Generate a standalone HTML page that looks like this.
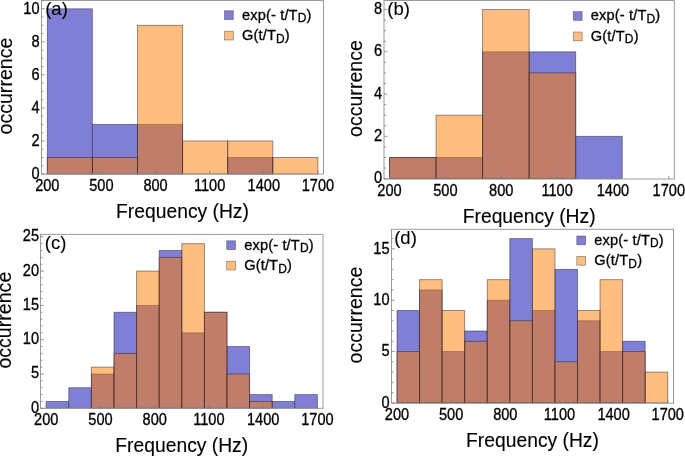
<!DOCTYPE html>
<html><head><meta charset="utf-8"><style>
html,body{margin:0;padding:0;background:#fff;}
svg{display:block;will-change:transform;}
text{font-family:"Liberation Sans",sans-serif;fill:#000;stroke:#000;stroke-width:0.3px;}
.tk{font-size:15.2px;}
.ax{font-size:19.3px;stroke-width:0.12px;}
.oc{font-size:19.6px;stroke-width:0.12px;}
.pl{font-size:18.5px;stroke-width:0.1px;}
.lg{font-size:14.6px;letter-spacing:0.15px;}
.sub{font-size:12px;}
</style></head><body>
<svg width="685" height="456" viewBox="0 0 685 456">
<rect width="685" height="456" fill="#fff"/>
<rect x="47.30" y="8.80" width="45.10" height="165.20" fill="rgb(127,127,213)" stroke="rgba(25,25,45,0.5)" stroke-width="0.9"/>
<rect x="92.40" y="124.44" width="45.10" height="49.56" fill="rgb(127,127,213)" stroke="rgba(25,25,45,0.5)" stroke-width="0.9"/>
<rect x="137.50" y="124.44" width="45.10" height="49.56" fill="rgb(127,127,213)" stroke="rgba(25,25,45,0.5)" stroke-width="0.9"/>
<rect x="227.70" y="157.48" width="45.10" height="16.52" fill="rgb(127,127,213)" stroke="rgba(25,25,45,0.5)" stroke-width="0.9"/>
<rect x="47.30" y="157.48" width="45.10" height="16.52" fill="rgba(255,124,0,0.5)" stroke="rgba(25,25,45,0.5)" stroke-width="0.9"/>
<rect x="92.40" y="157.48" width="45.10" height="16.52" fill="rgba(255,124,0,0.5)" stroke="rgba(25,25,45,0.5)" stroke-width="0.9"/>
<rect x="137.50" y="25.32" width="45.10" height="148.68" fill="rgba(255,124,0,0.5)" stroke="rgba(25,25,45,0.5)" stroke-width="0.9"/>
<rect x="182.60" y="140.96" width="45.10" height="33.04" fill="rgba(255,124,0,0.5)" stroke="rgba(25,25,45,0.5)" stroke-width="0.9"/>
<rect x="227.70" y="140.96" width="45.10" height="33.04" fill="rgba(255,124,0,0.5)" stroke="rgba(25,25,45,0.5)" stroke-width="0.9"/>
<rect x="272.80" y="157.48" width="45.10" height="16.52" fill="rgba(255,124,0,0.5)" stroke="rgba(25,25,45,0.5)" stroke-width="0.9"/>
<rect x="41.5" y="0.5" width="282.0" height="173.5" fill="none" stroke="#9a9a9a" stroke-width="1"/>
<line x1="41.5" y1="174.00" x2="44.9" y2="174.00" stroke="#7c7c7c" stroke-width="0.8"/>
<line x1="41.5" y1="165.74" x2="43.5" y2="165.74" stroke="#7c7c7c" stroke-width="0.8"/>
<line x1="41.5" y1="157.48" x2="43.5" y2="157.48" stroke="#7c7c7c" stroke-width="0.8"/>
<line x1="41.5" y1="149.22" x2="43.5" y2="149.22" stroke="#7c7c7c" stroke-width="0.8"/>
<line x1="41.5" y1="140.96" x2="44.9" y2="140.96" stroke="#7c7c7c" stroke-width="0.8"/>
<line x1="41.5" y1="132.70" x2="43.5" y2="132.70" stroke="#7c7c7c" stroke-width="0.8"/>
<line x1="41.5" y1="124.44" x2="43.5" y2="124.44" stroke="#7c7c7c" stroke-width="0.8"/>
<line x1="41.5" y1="116.18" x2="43.5" y2="116.18" stroke="#7c7c7c" stroke-width="0.8"/>
<line x1="41.5" y1="107.92" x2="44.9" y2="107.92" stroke="#7c7c7c" stroke-width="0.8"/>
<line x1="41.5" y1="99.66" x2="43.5" y2="99.66" stroke="#7c7c7c" stroke-width="0.8"/>
<line x1="41.5" y1="91.40" x2="43.5" y2="91.40" stroke="#7c7c7c" stroke-width="0.8"/>
<line x1="41.5" y1="83.14" x2="43.5" y2="83.14" stroke="#7c7c7c" stroke-width="0.8"/>
<line x1="41.5" y1="74.88" x2="44.9" y2="74.88" stroke="#7c7c7c" stroke-width="0.8"/>
<line x1="41.5" y1="66.62" x2="43.5" y2="66.62" stroke="#7c7c7c" stroke-width="0.8"/>
<line x1="41.5" y1="58.36" x2="43.5" y2="58.36" stroke="#7c7c7c" stroke-width="0.8"/>
<line x1="41.5" y1="50.10" x2="43.5" y2="50.10" stroke="#7c7c7c" stroke-width="0.8"/>
<line x1="41.5" y1="41.84" x2="44.9" y2="41.84" stroke="#7c7c7c" stroke-width="0.8"/>
<line x1="41.5" y1="33.58" x2="43.5" y2="33.58" stroke="#7c7c7c" stroke-width="0.8"/>
<line x1="41.5" y1="25.32" x2="43.5" y2="25.32" stroke="#7c7c7c" stroke-width="0.8"/>
<line x1="41.5" y1="17.06" x2="43.5" y2="17.06" stroke="#7c7c7c" stroke-width="0.8"/>
<line x1="41.5" y1="8.80" x2="44.9" y2="8.80" stroke="#7c7c7c" stroke-width="0.8"/>
<line x1="41.5" y1="0.54" x2="43.5" y2="0.54" stroke="#7c7c7c" stroke-width="0.8"/>
<text transform="translate(39.50,179.25) scale(0.96,1.08)" text-anchor="end" class="tk">0</text>
<text transform="translate(39.50,146.21) scale(0.96,1.08)" text-anchor="end" class="tk">2</text>
<text transform="translate(39.50,113.17) scale(0.96,1.08)" text-anchor="end" class="tk">4</text>
<text transform="translate(39.50,80.13) scale(0.96,1.08)" text-anchor="end" class="tk">6</text>
<text transform="translate(39.50,47.09) scale(0.96,1.08)" text-anchor="end" class="tk">8</text>
<text transform="translate(39.50,14.05) scale(0.96,1.08)" text-anchor="end" class="tk">10</text>
<line x1="47.30" y1="174" x2="47.30" y2="170.8" stroke="#7c7c7c" stroke-width="0.8"/>
<text transform="translate(47.30,191.20) scale(0.96,1.08)" text-anchor="middle" class="tk">200</text>
<line x1="101.42" y1="174" x2="101.42" y2="170.8" stroke="#7c7c7c" stroke-width="0.8"/>
<text transform="translate(101.42,191.20) scale(0.96,1.08)" text-anchor="middle" class="tk">500</text>
<line x1="155.54" y1="174" x2="155.54" y2="170.8" stroke="#7c7c7c" stroke-width="0.8"/>
<text transform="translate(155.54,191.20) scale(0.96,1.08)" text-anchor="middle" class="tk">800</text>
<line x1="209.66" y1="174" x2="209.66" y2="170.8" stroke="#7c7c7c" stroke-width="0.8"/>
<text transform="translate(209.66,191.20) scale(0.96,1.08)" text-anchor="middle" class="tk">1100</text>
<line x1="263.78" y1="174" x2="263.78" y2="170.8" stroke="#7c7c7c" stroke-width="0.8"/>
<text transform="translate(263.78,191.20) scale(0.96,1.08)" text-anchor="middle" class="tk">1400</text>
<line x1="317.90" y1="174" x2="317.90" y2="170.8" stroke="#7c7c7c" stroke-width="0.8"/>
<text transform="translate(317.90,191.20) scale(0.96,1.08)" text-anchor="middle" class="tk">1700</text>
<text x="182.50" y="217.70" text-anchor="middle" class="ax">Frequency (Hz)</text>
<text transform="translate(12.00,86.05) rotate(-90)" x="0" y="0" text-anchor="middle" class="oc">occurrence</text>
<text x="45.20" y="14.80" class="pl">(a)</text>
<rect x="224.50" y="10.80" width="8.8" height="8.8" fill="rgb(127,127,213)" stroke="rgba(25,25,45,0.5)" stroke-width="0.7"/>
<rect x="224.50" y="31.20" width="8.8" height="8.8" fill="rgb(255,190,128)" stroke="rgba(25,25,45,0.5)" stroke-width="0.7"/>
<g transform="translate(242.00,19.60) scale(1,1)"><text x="0" y="0" class="lg">exp(- t/T<tspan class="sub" dy="2.6">D</tspan><tspan dy="-2.6">)</tspan></text></g>
<g transform="translate(242.00,40.00) scale(1,1)"><text x="0" y="0" class="lg">G(t/T<tspan class="sub" dy="2.6">D</tspan><tspan dy="-2.6">)</tspan></text></g>
<rect x="389.50" y="157.47" width="46.55" height="21.13" fill="rgb(127,127,213)" stroke="rgba(25,25,45,0.5)" stroke-width="0.9"/>
<rect x="436.05" y="157.47" width="46.55" height="21.13" fill="rgb(127,127,213)" stroke="rgba(25,25,45,0.5)" stroke-width="0.9"/>
<rect x="482.60" y="51.82" width="46.55" height="126.78" fill="rgb(127,127,213)" stroke="rgba(25,25,45,0.5)" stroke-width="0.9"/>
<rect x="529.15" y="51.82" width="46.55" height="126.78" fill="rgb(127,127,213)" stroke="rgba(25,25,45,0.5)" stroke-width="0.9"/>
<rect x="575.70" y="136.34" width="46.55" height="42.26" fill="rgb(127,127,213)" stroke="rgba(25,25,45,0.5)" stroke-width="0.9"/>
<rect x="389.50" y="157.47" width="46.55" height="21.13" fill="rgba(255,124,0,0.5)" stroke="rgba(25,25,45,0.5)" stroke-width="0.9"/>
<rect x="436.05" y="115.21" width="46.55" height="63.39" fill="rgba(255,124,0,0.5)" stroke="rgba(25,25,45,0.5)" stroke-width="0.9"/>
<rect x="482.60" y="9.56" width="46.55" height="169.04" fill="rgba(255,124,0,0.5)" stroke="rgba(25,25,45,0.5)" stroke-width="0.9"/>
<rect x="529.15" y="72.95" width="46.55" height="105.65" fill="rgba(255,124,0,0.5)" stroke="rgba(25,25,45,0.5)" stroke-width="0.9"/>
<rect x="384" y="0.5" width="290.29999999999995" height="178.5" fill="none" stroke="#9a9a9a" stroke-width="1"/>
<line x1="384" y1="178.60" x2="387.4" y2="178.60" stroke="#7c7c7c" stroke-width="0.8"/>
<line x1="384" y1="168.03" x2="386" y2="168.03" stroke="#7c7c7c" stroke-width="0.8"/>
<line x1="384" y1="157.47" x2="386" y2="157.47" stroke="#7c7c7c" stroke-width="0.8"/>
<line x1="384" y1="146.91" x2="386" y2="146.91" stroke="#7c7c7c" stroke-width="0.8"/>
<line x1="384" y1="136.34" x2="387.4" y2="136.34" stroke="#7c7c7c" stroke-width="0.8"/>
<line x1="384" y1="125.78" x2="386" y2="125.78" stroke="#7c7c7c" stroke-width="0.8"/>
<line x1="384" y1="115.21" x2="386" y2="115.21" stroke="#7c7c7c" stroke-width="0.8"/>
<line x1="384" y1="104.64" x2="386" y2="104.64" stroke="#7c7c7c" stroke-width="0.8"/>
<line x1="384" y1="94.08" x2="387.4" y2="94.08" stroke="#7c7c7c" stroke-width="0.8"/>
<line x1="384" y1="83.52" x2="386" y2="83.52" stroke="#7c7c7c" stroke-width="0.8"/>
<line x1="384" y1="72.95" x2="386" y2="72.95" stroke="#7c7c7c" stroke-width="0.8"/>
<line x1="384" y1="62.39" x2="386" y2="62.39" stroke="#7c7c7c" stroke-width="0.8"/>
<line x1="384" y1="51.82" x2="387.4" y2="51.82" stroke="#7c7c7c" stroke-width="0.8"/>
<line x1="384" y1="41.25" x2="386" y2="41.25" stroke="#7c7c7c" stroke-width="0.8"/>
<line x1="384" y1="30.69" x2="386" y2="30.69" stroke="#7c7c7c" stroke-width="0.8"/>
<line x1="384" y1="20.12" x2="386" y2="20.12" stroke="#7c7c7c" stroke-width="0.8"/>
<line x1="384" y1="9.56" x2="387.4" y2="9.56" stroke="#7c7c7c" stroke-width="0.8"/>
<text transform="translate(382.00,183.20) scale(0.96,1.08)" text-anchor="end" class="tk">0</text>
<text transform="translate(382.00,140.94) scale(0.96,1.08)" text-anchor="end" class="tk">2</text>
<text transform="translate(382.00,98.68) scale(0.96,1.08)" text-anchor="end" class="tk">4</text>
<text transform="translate(382.00,56.42) scale(0.96,1.08)" text-anchor="end" class="tk">6</text>
<text transform="translate(382.00,14.16) scale(0.96,1.08)" text-anchor="end" class="tk">8</text>
<line x1="389.50" y1="179" x2="389.50" y2="175.8" stroke="#7c7c7c" stroke-width="0.8"/>
<text transform="translate(389.50,196.40) scale(0.96,1.08)" text-anchor="middle" class="tk">200</text>
<line x1="445.36" y1="179" x2="445.36" y2="175.8" stroke="#7c7c7c" stroke-width="0.8"/>
<text transform="translate(445.36,196.40) scale(0.96,1.08)" text-anchor="middle" class="tk">500</text>
<line x1="501.22" y1="179" x2="501.22" y2="175.8" stroke="#7c7c7c" stroke-width="0.8"/>
<text transform="translate(501.22,196.40) scale(0.96,1.08)" text-anchor="middle" class="tk">800</text>
<line x1="557.08" y1="179" x2="557.08" y2="175.8" stroke="#7c7c7c" stroke-width="0.8"/>
<text transform="translate(557.08,196.40) scale(0.96,1.08)" text-anchor="middle" class="tk">1100</text>
<line x1="612.94" y1="179" x2="612.94" y2="175.8" stroke="#7c7c7c" stroke-width="0.8"/>
<text transform="translate(612.94,196.40) scale(0.96,1.08)" text-anchor="middle" class="tk">1400</text>
<line x1="668.80" y1="179" x2="668.80" y2="175.8" stroke="#7c7c7c" stroke-width="0.8"/>
<text transform="translate(668.80,196.40) scale(0.96,1.08)" text-anchor="middle" class="tk">1700</text>
<text x="529.15" y="222.70" text-anchor="middle" class="ax">Frequency (Hz)</text>
<text transform="translate(361.70,88.55) rotate(-90)" x="0" y="0" text-anchor="middle" class="oc">occurrence</text>
<text x="387.30" y="15.40" class="pl">(b)</text>
<rect x="573.30" y="11.60" width="8.8" height="8.8" fill="rgb(127,127,213)" stroke="rgba(25,25,45,0.5)" stroke-width="0.7"/>
<rect x="573.30" y="32.00" width="8.8" height="8.8" fill="rgb(255,190,128)" stroke="rgba(25,25,45,0.5)" stroke-width="0.7"/>
<g transform="translate(590.80,20.40) scale(1,1)"><text x="0" y="0" class="lg">exp(- t/T<tspan class="sub" dy="2.6">D</tspan><tspan dy="-2.6">)</tspan></text></g>
<g transform="translate(590.80,40.80) scale(1,1)"><text x="0" y="0" class="lg">G(t/T<tspan class="sub" dy="2.6">D</tspan><tspan dy="-2.6">)</tspan></text></g>
<rect x="46.20" y="401.44" width="22.60" height="6.86" fill="rgb(127,127,213)" stroke="rgba(25,25,45,0.5)" stroke-width="0.9"/>
<rect x="68.80" y="387.72" width="22.60" height="20.58" fill="rgb(127,127,213)" stroke="rgba(25,25,45,0.5)" stroke-width="0.9"/>
<rect x="91.40" y="374.00" width="22.60" height="34.30" fill="rgb(127,127,213)" stroke="rgba(25,25,45,0.5)" stroke-width="0.9"/>
<rect x="114.00" y="312.26" width="22.60" height="96.04" fill="rgb(127,127,213)" stroke="rgba(25,25,45,0.5)" stroke-width="0.9"/>
<rect x="136.60" y="305.40" width="22.60" height="102.90" fill="rgb(127,127,213)" stroke="rgba(25,25,45,0.5)" stroke-width="0.9"/>
<rect x="159.20" y="250.52" width="22.60" height="157.78" fill="rgb(127,127,213)" stroke="rgba(25,25,45,0.5)" stroke-width="0.9"/>
<rect x="181.80" y="332.84" width="22.60" height="75.46" fill="rgb(127,127,213)" stroke="rgba(25,25,45,0.5)" stroke-width="0.9"/>
<rect x="204.40" y="312.26" width="22.60" height="96.04" fill="rgb(127,127,213)" stroke="rgba(25,25,45,0.5)" stroke-width="0.9"/>
<rect x="227.00" y="346.56" width="22.60" height="61.74" fill="rgb(127,127,213)" stroke="rgba(25,25,45,0.5)" stroke-width="0.9"/>
<rect x="249.60" y="394.58" width="22.60" height="13.72" fill="rgb(127,127,213)" stroke="rgba(25,25,45,0.5)" stroke-width="0.9"/>
<rect x="272.20" y="401.44" width="22.60" height="6.86" fill="rgb(127,127,213)" stroke="rgba(25,25,45,0.5)" stroke-width="0.9"/>
<rect x="294.80" y="394.58" width="22.60" height="13.72" fill="rgb(127,127,213)" stroke="rgba(25,25,45,0.5)" stroke-width="0.9"/>
<rect x="91.40" y="367.14" width="22.60" height="41.16" fill="rgba(255,124,0,0.5)" stroke="rgba(25,25,45,0.5)" stroke-width="0.9"/>
<rect x="114.00" y="353.42" width="22.60" height="54.88" fill="rgba(255,124,0,0.5)" stroke="rgba(25,25,45,0.5)" stroke-width="0.9"/>
<rect x="136.60" y="271.10" width="22.60" height="137.20" fill="rgba(255,124,0,0.5)" stroke="rgba(25,25,45,0.5)" stroke-width="0.9"/>
<rect x="159.20" y="257.38" width="22.60" height="150.92" fill="rgba(255,124,0,0.5)" stroke="rgba(25,25,45,0.5)" stroke-width="0.9"/>
<rect x="181.80" y="243.66" width="22.60" height="164.64" fill="rgba(255,124,0,0.5)" stroke="rgba(25,25,45,0.5)" stroke-width="0.9"/>
<rect x="204.40" y="312.26" width="22.60" height="96.04" fill="rgba(255,124,0,0.5)" stroke="rgba(25,25,45,0.5)" stroke-width="0.9"/>
<rect x="227.00" y="374.00" width="22.60" height="34.30" fill="rgba(255,124,0,0.5)" stroke="rgba(25,25,45,0.5)" stroke-width="0.9"/>
<rect x="249.60" y="401.44" width="22.60" height="6.86" fill="rgba(255,124,0,0.5)" stroke="rgba(25,25,45,0.5)" stroke-width="0.9"/>
<rect x="40.5" y="234.4" width="282.5" height="173.9" fill="none" stroke="#9a9a9a" stroke-width="1"/>
<line x1="40.5" y1="408.30" x2="43.9" y2="408.30" stroke="#7c7c7c" stroke-width="0.8"/>
<line x1="40.5" y1="401.44" x2="42.5" y2="401.44" stroke="#7c7c7c" stroke-width="0.8"/>
<line x1="40.5" y1="394.58" x2="42.5" y2="394.58" stroke="#7c7c7c" stroke-width="0.8"/>
<line x1="40.5" y1="387.72" x2="42.5" y2="387.72" stroke="#7c7c7c" stroke-width="0.8"/>
<line x1="40.5" y1="380.86" x2="42.5" y2="380.86" stroke="#7c7c7c" stroke-width="0.8"/>
<line x1="40.5" y1="374.00" x2="43.9" y2="374.00" stroke="#7c7c7c" stroke-width="0.8"/>
<line x1="40.5" y1="367.14" x2="42.5" y2="367.14" stroke="#7c7c7c" stroke-width="0.8"/>
<line x1="40.5" y1="360.28" x2="42.5" y2="360.28" stroke="#7c7c7c" stroke-width="0.8"/>
<line x1="40.5" y1="353.42" x2="42.5" y2="353.42" stroke="#7c7c7c" stroke-width="0.8"/>
<line x1="40.5" y1="346.56" x2="42.5" y2="346.56" stroke="#7c7c7c" stroke-width="0.8"/>
<line x1="40.5" y1="339.70" x2="43.9" y2="339.70" stroke="#7c7c7c" stroke-width="0.8"/>
<line x1="40.5" y1="332.84" x2="42.5" y2="332.84" stroke="#7c7c7c" stroke-width="0.8"/>
<line x1="40.5" y1="325.98" x2="42.5" y2="325.98" stroke="#7c7c7c" stroke-width="0.8"/>
<line x1="40.5" y1="319.12" x2="42.5" y2="319.12" stroke="#7c7c7c" stroke-width="0.8"/>
<line x1="40.5" y1="312.26" x2="42.5" y2="312.26" stroke="#7c7c7c" stroke-width="0.8"/>
<line x1="40.5" y1="305.40" x2="43.9" y2="305.40" stroke="#7c7c7c" stroke-width="0.8"/>
<line x1="40.5" y1="298.54" x2="42.5" y2="298.54" stroke="#7c7c7c" stroke-width="0.8"/>
<line x1="40.5" y1="291.68" x2="42.5" y2="291.68" stroke="#7c7c7c" stroke-width="0.8"/>
<line x1="40.5" y1="284.82" x2="42.5" y2="284.82" stroke="#7c7c7c" stroke-width="0.8"/>
<line x1="40.5" y1="277.96" x2="42.5" y2="277.96" stroke="#7c7c7c" stroke-width="0.8"/>
<line x1="40.5" y1="271.10" x2="43.9" y2="271.10" stroke="#7c7c7c" stroke-width="0.8"/>
<line x1="40.5" y1="264.24" x2="42.5" y2="264.24" stroke="#7c7c7c" stroke-width="0.8"/>
<line x1="40.5" y1="257.38" x2="42.5" y2="257.38" stroke="#7c7c7c" stroke-width="0.8"/>
<line x1="40.5" y1="250.52" x2="42.5" y2="250.52" stroke="#7c7c7c" stroke-width="0.8"/>
<line x1="40.5" y1="243.66" x2="42.5" y2="243.66" stroke="#7c7c7c" stroke-width="0.8"/>
<line x1="40.5" y1="236.80" x2="43.9" y2="236.80" stroke="#7c7c7c" stroke-width="0.8"/>
<text transform="translate(39.00,412.75) scale(0.96,1.08)" text-anchor="end" class="tk">0</text>
<text transform="translate(39.00,378.45) scale(0.96,1.08)" text-anchor="end" class="tk">5</text>
<text transform="translate(39.00,344.15) scale(0.96,1.08)" text-anchor="end" class="tk">10</text>
<text transform="translate(39.00,309.85) scale(0.96,1.08)" text-anchor="end" class="tk">15</text>
<text transform="translate(39.00,275.55) scale(0.96,1.08)" text-anchor="end" class="tk">20</text>
<text transform="translate(39.00,241.25) scale(0.96,1.08)" text-anchor="end" class="tk">25</text>
<line x1="46.20" y1="408.3" x2="46.20" y2="405.1" stroke="#7c7c7c" stroke-width="0.8"/>
<text transform="translate(46.20,425.00) scale(0.96,1.08)" text-anchor="middle" class="tk">200</text>
<line x1="100.44" y1="408.3" x2="100.44" y2="405.1" stroke="#7c7c7c" stroke-width="0.8"/>
<text transform="translate(100.44,425.00) scale(0.96,1.08)" text-anchor="middle" class="tk">500</text>
<line x1="154.68" y1="408.3" x2="154.68" y2="405.1" stroke="#7c7c7c" stroke-width="0.8"/>
<text transform="translate(154.68,425.00) scale(0.96,1.08)" text-anchor="middle" class="tk">800</text>
<line x1="208.92" y1="408.3" x2="208.92" y2="405.1" stroke="#7c7c7c" stroke-width="0.8"/>
<text transform="translate(208.92,425.00) scale(0.96,1.08)" text-anchor="middle" class="tk">1100</text>
<line x1="263.16" y1="408.3" x2="263.16" y2="405.1" stroke="#7c7c7c" stroke-width="0.8"/>
<text transform="translate(263.16,425.00) scale(0.96,1.08)" text-anchor="middle" class="tk">1400</text>
<line x1="317.40" y1="408.3" x2="317.40" y2="405.1" stroke="#7c7c7c" stroke-width="0.8"/>
<text transform="translate(317.40,425.00) scale(0.96,1.08)" text-anchor="middle" class="tk">1700</text>
<text x="181.75" y="452.00" text-anchor="middle" class="ax">Frequency (Hz)</text>
<text transform="translate(11.45,320.15) rotate(-90)" x="0" y="0" text-anchor="middle" class="oc">occurrence</text>
<text x="44.80" y="249.00" class="pl">(c)</text>
<rect x="226.70" y="240.80" width="8.8" height="8.8" fill="rgb(127,127,213)" stroke="rgba(25,25,45,0.5)" stroke-width="0.7"/>
<rect x="226.70" y="261.20" width="8.8" height="8.8" fill="rgb(255,190,128)" stroke="rgba(25,25,45,0.5)" stroke-width="0.7"/>
<g transform="translate(244.20,249.60) scale(1,1)"><text x="0" y="0" class="lg">exp(- t/T<tspan class="sub" dy="2.6">D</tspan><tspan dy="-2.6">)</tspan></text></g>
<g transform="translate(244.20,270.00) scale(1,1)"><text x="0" y="0" class="lg">G(t/T<tspan class="sub" dy="2.6">D</tspan><tspan dy="-2.6">)</tspan></text></g>
<rect x="397.00" y="310.47" width="22.56" height="92.43" fill="rgb(127,127,213)" stroke="rgba(25,25,45,0.5)" stroke-width="0.9"/>
<rect x="419.56" y="289.93" width="22.56" height="112.97" fill="rgb(127,127,213)" stroke="rgba(25,25,45,0.5)" stroke-width="0.9"/>
<rect x="442.12" y="351.55" width="22.56" height="51.35" fill="rgb(127,127,213)" stroke="rgba(25,25,45,0.5)" stroke-width="0.9"/>
<rect x="464.69" y="331.01" width="22.56" height="71.89" fill="rgb(127,127,213)" stroke="rgba(25,25,45,0.5)" stroke-width="0.9"/>
<rect x="487.25" y="300.20" width="22.56" height="102.70" fill="rgb(127,127,213)" stroke="rgba(25,25,45,0.5)" stroke-width="0.9"/>
<rect x="509.81" y="238.58" width="22.56" height="164.32" fill="rgb(127,127,213)" stroke="rgba(25,25,45,0.5)" stroke-width="0.9"/>
<rect x="532.38" y="310.47" width="22.56" height="92.43" fill="rgb(127,127,213)" stroke="rgba(25,25,45,0.5)" stroke-width="0.9"/>
<rect x="554.94" y="269.39" width="22.56" height="133.51" fill="rgb(127,127,213)" stroke="rgba(25,25,45,0.5)" stroke-width="0.9"/>
<rect x="577.50" y="320.74" width="22.56" height="82.16" fill="rgb(127,127,213)" stroke="rgba(25,25,45,0.5)" stroke-width="0.9"/>
<rect x="600.06" y="351.55" width="22.56" height="51.35" fill="rgb(127,127,213)" stroke="rgba(25,25,45,0.5)" stroke-width="0.9"/>
<rect x="622.62" y="341.28" width="22.56" height="61.62" fill="rgb(127,127,213)" stroke="rgba(25,25,45,0.5)" stroke-width="0.9"/>
<rect x="397.00" y="351.55" width="22.56" height="51.35" fill="rgba(255,124,0,0.5)" stroke="rgba(25,25,45,0.5)" stroke-width="0.9"/>
<rect x="419.56" y="279.66" width="22.56" height="123.24" fill="rgba(255,124,0,0.5)" stroke="rgba(25,25,45,0.5)" stroke-width="0.9"/>
<rect x="442.12" y="310.47" width="22.56" height="92.43" fill="rgba(255,124,0,0.5)" stroke="rgba(25,25,45,0.5)" stroke-width="0.9"/>
<rect x="464.69" y="341.28" width="22.56" height="61.62" fill="rgba(255,124,0,0.5)" stroke="rgba(25,25,45,0.5)" stroke-width="0.9"/>
<rect x="487.25" y="279.66" width="22.56" height="123.24" fill="rgba(255,124,0,0.5)" stroke="rgba(25,25,45,0.5)" stroke-width="0.9"/>
<rect x="509.81" y="320.74" width="22.56" height="82.16" fill="rgba(255,124,0,0.5)" stroke="rgba(25,25,45,0.5)" stroke-width="0.9"/>
<rect x="532.38" y="248.85" width="22.56" height="154.05" fill="rgba(255,124,0,0.5)" stroke="rgba(25,25,45,0.5)" stroke-width="0.9"/>
<rect x="554.94" y="361.82" width="22.56" height="41.08" fill="rgba(255,124,0,0.5)" stroke="rgba(25,25,45,0.5)" stroke-width="0.9"/>
<rect x="577.50" y="310.47" width="22.56" height="92.43" fill="rgba(255,124,0,0.5)" stroke="rgba(25,25,45,0.5)" stroke-width="0.9"/>
<rect x="600.06" y="279.66" width="22.56" height="123.24" fill="rgba(255,124,0,0.5)" stroke="rgba(25,25,45,0.5)" stroke-width="0.9"/>
<rect x="622.62" y="351.55" width="22.56" height="51.35" fill="rgba(255,124,0,0.5)" stroke="rgba(25,25,45,0.5)" stroke-width="0.9"/>
<rect x="645.19" y="372.09" width="22.56" height="30.81" fill="rgba(255,124,0,0.5)" stroke="rgba(25,25,45,0.5)" stroke-width="0.9"/>
<rect x="391.5" y="229.3" width="282.0" height="173.89999999999998" fill="none" stroke="#9a9a9a" stroke-width="1"/>
<line x1="391.5" y1="402.90" x2="394.9" y2="402.90" stroke="#7c7c7c" stroke-width="0.8"/>
<line x1="391.5" y1="392.63" x2="393.5" y2="392.63" stroke="#7c7c7c" stroke-width="0.8"/>
<line x1="391.5" y1="382.36" x2="393.5" y2="382.36" stroke="#7c7c7c" stroke-width="0.8"/>
<line x1="391.5" y1="372.09" x2="393.5" y2="372.09" stroke="#7c7c7c" stroke-width="0.8"/>
<line x1="391.5" y1="361.82" x2="393.5" y2="361.82" stroke="#7c7c7c" stroke-width="0.8"/>
<line x1="391.5" y1="351.55" x2="394.9" y2="351.55" stroke="#7c7c7c" stroke-width="0.8"/>
<line x1="391.5" y1="341.28" x2="393.5" y2="341.28" stroke="#7c7c7c" stroke-width="0.8"/>
<line x1="391.5" y1="331.01" x2="393.5" y2="331.01" stroke="#7c7c7c" stroke-width="0.8"/>
<line x1="391.5" y1="320.74" x2="393.5" y2="320.74" stroke="#7c7c7c" stroke-width="0.8"/>
<line x1="391.5" y1="310.47" x2="393.5" y2="310.47" stroke="#7c7c7c" stroke-width="0.8"/>
<line x1="391.5" y1="300.20" x2="394.9" y2="300.20" stroke="#7c7c7c" stroke-width="0.8"/>
<line x1="391.5" y1="289.93" x2="393.5" y2="289.93" stroke="#7c7c7c" stroke-width="0.8"/>
<line x1="391.5" y1="279.66" x2="393.5" y2="279.66" stroke="#7c7c7c" stroke-width="0.8"/>
<line x1="391.5" y1="269.39" x2="393.5" y2="269.39" stroke="#7c7c7c" stroke-width="0.8"/>
<line x1="391.5" y1="259.12" x2="393.5" y2="259.12" stroke="#7c7c7c" stroke-width="0.8"/>
<line x1="391.5" y1="248.85" x2="394.9" y2="248.85" stroke="#7c7c7c" stroke-width="0.8"/>
<line x1="391.5" y1="238.58" x2="393.5" y2="238.58" stroke="#7c7c7c" stroke-width="0.8"/>
<text transform="translate(389.50,407.70) scale(0.96,1.05)" text-anchor="end" class="tk">0</text>
<text transform="translate(389.50,356.35) scale(0.96,1.05)" text-anchor="end" class="tk">5</text>
<text transform="translate(389.50,305.00) scale(0.96,1.05)" text-anchor="end" class="tk">10</text>
<text transform="translate(389.50,253.65) scale(0.96,1.05)" text-anchor="end" class="tk">15</text>
<line x1="397.00" y1="403.2" x2="397.00" y2="400.0" stroke="#7c7c7c" stroke-width="0.8"/>
<text transform="translate(397.00,419.60) scale(0.96,1.08)" text-anchor="middle" class="tk">200</text>
<line x1="451.15" y1="403.2" x2="451.15" y2="400.0" stroke="#7c7c7c" stroke-width="0.8"/>
<text transform="translate(451.15,419.60) scale(0.96,1.08)" text-anchor="middle" class="tk">500</text>
<line x1="505.30" y1="403.2" x2="505.30" y2="400.0" stroke="#7c7c7c" stroke-width="0.8"/>
<text transform="translate(505.30,419.60) scale(0.96,1.08)" text-anchor="middle" class="tk">800</text>
<line x1="559.45" y1="403.2" x2="559.45" y2="400.0" stroke="#7c7c7c" stroke-width="0.8"/>
<text transform="translate(559.45,419.60) scale(0.96,1.08)" text-anchor="middle" class="tk">1100</text>
<line x1="613.60" y1="403.2" x2="613.60" y2="400.0" stroke="#7c7c7c" stroke-width="0.8"/>
<text transform="translate(613.60,419.60) scale(0.96,1.08)" text-anchor="middle" class="tk">1400</text>
<line x1="667.75" y1="403.2" x2="667.75" y2="400.0" stroke="#7c7c7c" stroke-width="0.8"/>
<text transform="translate(667.75,419.60) scale(0.96,1.08)" text-anchor="middle" class="tk">1700</text>
<text x="532.50" y="446.90" text-anchor="middle" class="ax">Frequency (Hz)</text>
<text transform="translate(362.10,315.05) rotate(-90)" x="0" y="0" text-anchor="middle" class="oc">occurrence</text>
<text x="394.20" y="244.35" class="pl">(d)</text>
<rect x="576.80" y="236.00" width="8.8" height="8.8" fill="rgb(127,127,213)" stroke="rgba(25,25,45,0.5)" stroke-width="0.7"/>
<rect x="576.80" y="256.40" width="8.8" height="8.8" fill="rgb(255,190,128)" stroke="rgba(25,25,45,0.5)" stroke-width="0.7"/>
<g transform="translate(594.30,244.80) scale(1,1)"><text x="0" y="0" class="lg">exp(- t/T<tspan class="sub" dy="2.6">D</tspan><tspan dy="-2.6">)</tspan></text></g>
<g transform="translate(594.30,265.20) scale(1,1)"><text x="0" y="0" class="lg">G(t/T<tspan class="sub" dy="2.6">D</tspan><tspan dy="-2.6">)</tspan></text></g>
</svg>
</body></html>
